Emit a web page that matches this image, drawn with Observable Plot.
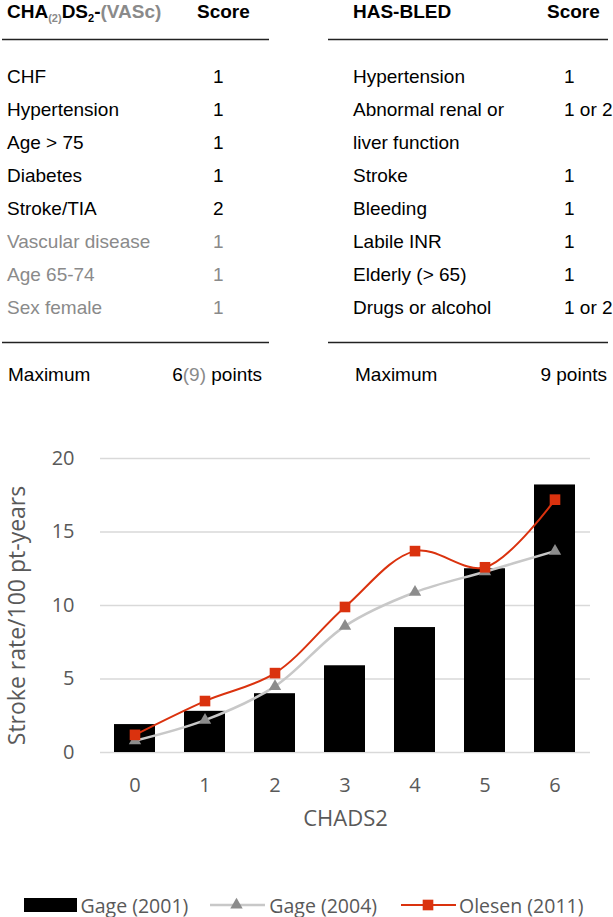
<!DOCTYPE html>
<html><head><meta charset="utf-8">
<script src="https://cdn.jsdelivr.net/npm/d3@7"></script>
<script src="https://cdn.jsdelivr.net/npm/@observablehq/plot@0.6"></script>
<style>
html,body{margin:0;padding:0;background:#fff;}
body{width:613px;height:917px;overflow:hidden;position:relative;}
#table{position:absolute;left:0;top:0;}
#chart{position:absolute;left:0;top:400px;}
#legend{position:absolute;left:0;top:893px;width:613px;height:24px;display:flex;align-items:center;
  font-family:"Open Sans",sans-serif;font-size:19.5px;color:#595959;white-space:nowrap;}
#legend svg{display:block;flex:none;}
</style></head><body>
<div id="table"></div>
<div id="chart"></div>
<div id="legend"></div>
<script>
// ---- table data ----
const chadsFactors = ["CHF","Hypertension","Age > 75","Diabetes","Stroke/TIA","Vascular disease","Age 65-74","Sex female"];
const chadsScores  = ["1","1","1","1","2","1","1","1"];
const chadsVascFlag = [false,false,false,false,false,true,true,true];
const hasbledFactors = ["Hypertension","Abnormal renal or","liver function","Stroke","Bleeding","Labile INR","Elderly (> 65)","Drugs or alcohol"];
const hasbledScores  = ["1","1 or 2","","1","1","1","1","1 or 2"];
const scoreHeader = "Score";
const maxLabel = "Maximum";
const hasbledMax = "9 points";

// ---- chart data ----
const categories = [0,1,2,3,4,5,6];
const gage2001   = [1.9,2.8,4.0,5.9,8.5,12.5,18.2];
const gage2004   = [0.8,2.2,4.5,8.6,10.9,12.3,13.7];
const olesen2011 = [1.2,3.5,5.4,9.9,13.7,12.6,17.2];
const yTicks = [0,5,10,15,20];
const seriesNames = ["Gage (2001)","Gage (2004)","Olesen (2011)"];
const yLabel = "Stroke rate/100 pt-years";
const xLabel = "CHADS2";

// ---- table drawing ----
const gray = "#8a8a8a";
const tsvg = d3.select("#table").append("svg").attr("width",613).attr("height",400)
  .style("font-family","'Liberation Sans',Arial,sans-serif").style("font-size","19px");
const capShift = 6.8; // baseline offset from cap centre
const headY = 11, rowY0 = 76, rowStep = 33, lineTop = 39.5, lineBot = 342.5, maxY = 374;
const h1 = tsvg.append("text").attr("x",7).attr("y",headY+capShift).attr("font-weight","bold");
h1.append("tspan").text("CHA");
h1.append("tspan").attr("font-size","11px").attr("dy",4).attr("fill",gray).text("(2)");
h1.append("tspan").attr("dy",-4).text("DS");
h1.append("tspan").attr("font-size","11px").attr("dy",4).text("2");
h1.append("tspan").attr("dy",-4).text("-");
h1.append("tspan").attr("fill",gray).text("(VASc)");
tsvg.append("text").attr("x",197).attr("y",headY+capShift).attr("font-weight","bold").text(scoreHeader);
tsvg.append("text").attr("x",353).attr("y",headY+capShift).attr("font-weight","bold").text("HAS-BLED");
tsvg.append("text").attr("x",547).attr("y",headY+capShift).attr("font-weight","bold").text(scoreHeader);
[[2,269],[328,608]].forEach(([a,b])=>{
  tsvg.append("line").attr("x1",a).attr("x2",b).attr("y1",lineTop).attr("y2",lineTop).attr("stroke","#222").attr("stroke-width",1.4);
  tsvg.append("line").attr("x1",a).attr("x2",b).attr("y1",lineBot).attr("y2",lineBot).attr("stroke","#222").attr("stroke-width",1.4);
});
chadsFactors.forEach((f,i)=>{
  const y = rowY0 + i*rowStep + capShift, col = chadsVascFlag[i] ? gray : "#000";
  tsvg.append("text").attr("x",7).attr("y",y).attr("fill",col).text(f);
  tsvg.append("text").attr("x",213).attr("y",y).attr("fill",col).text(chadsScores[i]);
});
hasbledFactors.forEach((f,i)=>{
  const y = rowY0 + i*rowStep + capShift;
  tsvg.append("text").attr("x",353).attr("y",y).text(f);
  tsvg.append("text").attr("x",564).attr("y",y).text(hasbledScores[i]);
});
tsvg.append("text").attr("x",8).attr("y",maxY+capShift).text(maxLabel);
const m1 = tsvg.append("text").attr("x",262).attr("y",maxY+capShift).attr("text-anchor","end");
m1.append("tspan").text("6");
m1.append("tspan").attr("fill",gray).text("(9)");
m1.append("tspan").text(" points");
tsvg.append("text").attr("x",355).attr("y",maxY+capShift).text(maxLabel);
tsvg.append("text").attr("x",607).attr("y",maxY+capShift).attr("text-anchor","end").text(hasbledMax);

// ---- chart ----
const rows = categories.map((c,i)=>({c, g1:gage2001[i], g2:gage2004[i], o:olesen2011[i]}));
const red = "#da320e", lineGray = "#c8c8c8", triGray = "#8c8c8c", ink = "#595959";
const chart = Plot.plot({
  width: 613, height: 460,
  marginLeft: 100, marginRight: 23, marginTop: 58, marginBottom: 108,
  style: {fontFamily: "'Open Sans', sans-serif", color: ink, background: "white", overflow: "visible"},
  x: {type: "band", domain: categories, paddingInner: 0.41, paddingOuter: 0.205, align: 0.5},
  y: {domain: [0, 20]},
  marks: [
    Plot.gridY(yTicks, {stroke: "#d9d9d9", strokeOpacity: 1, strokeWidth: 1.5}),
    Plot.barY(rows, {x: "c", y: "g1", fill: "black"}),
    Plot.line(rows, {x: "c", y: "g2", stroke: lineGray, strokeWidth: 2.5, curve: "catmull-rom"}),
    Plot.dot(rows, {x: "c", y: "g2", symbol: "triangle", r: 4.6, fill: triGray}),
    Plot.line(rows, {x: "c", y: "o", stroke: red, strokeWidth: 2, curve: "catmull-rom"}),
    Plot.dot(rows, {x: "c", y: "o", symbol: "square", r: 6, fill: red}),
    Plot.axisY(yTicks, {tickSize: 0, tickPadding: 26, fontSize: 20, label: null, fill: ink}),
    Plot.axisX({tickSize: 0, tickPadding: 25, fontSize: 20, label: null, fill: ink}),
    Plot.text([yLabel], {text: d => d, frameAnchor: "left", textAnchor: "middle", rotate: -90, dx: -83, dy: 10, fontSize: 23, fill: ink}),
    Plot.text([xLabel], {text: d => d, frameAnchor: "bottom", dy: 73, fontSize: 22, fill: ink})
  ]
});
document.getElementById("chart").appendChild(chart);

// ---- legend ----
const leg = d3.select("#legend");
leg.append("div").style("width","23.6px").style("flex","none");
const s1 = leg.append("svg").attr("width",53).attr("height",16);
s1.append("rect").attr("x",0).attr("y",1).attr("width",53).attr("height",14).attr("fill","black");
leg.append("span").style("margin-left","4px").text(seriesNames[0]);
leg.append("div").style("width","22px").style("flex","none");
const s2 = leg.append("svg").attr("width",55).attr("height",16);
s2.append("line").attr("x1",0).attr("x2",55).attr("y1",8).attr("y2",8).attr("stroke",lineGray).attr("stroke-width",2.5);
s2.append("path").attr("transform","translate(26.5,8)").attr("d",d3.symbol(d3.symbolTriangle, Math.PI*4.6*4.6)()).attr("fill",triGray);
leg.append("span").style("margin-left","4px").text(seriesNames[1]);
leg.append("div").style("width","24px").style("flex","none");
const s3 = leg.append("svg").attr("width",55).attr("height",16);
s3.append("line").attr("x1",0).attr("x2",55).attr("y1",8).attr("y2",8).attr("stroke",red).attr("stroke-width",2);
s3.append("path").attr("transform","translate(27,8)").attr("d",d3.symbol(d3.symbolSquare, Math.PI*36)()).attr("fill",red);
leg.append("span").style("margin-left","3px").text(seriesNames[2]);
</script>
</body></html>
